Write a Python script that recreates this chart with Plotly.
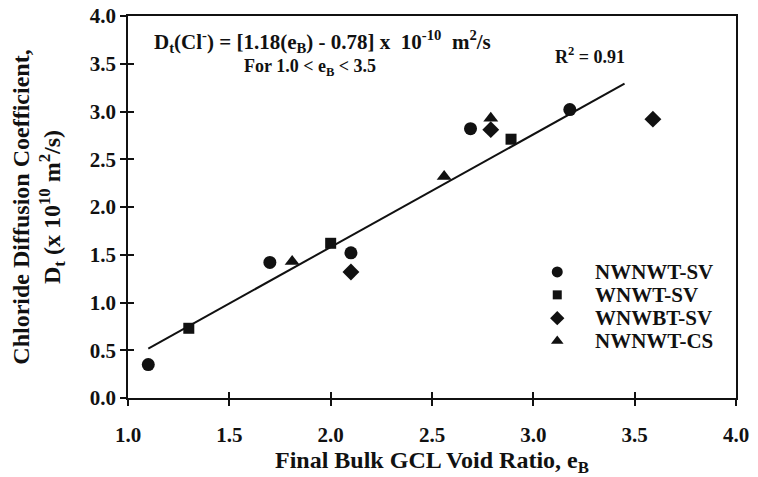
import numpy as np
import plotly.graph_objects as go

# Final bulk GCL void ratio (e_B) and chloride diffusion coefficient D_t (x 1e-10 m^2/s)
nwnwt_sv_x = [1.10, 1.70, 2.10, 2.69, 3.18]
nwnwt_sv_y = [0.35, 1.42, 1.52, 2.82, 3.02]

wnwt_sv_x = [1.30, 2.00, 2.89]
wnwt_sv_y = [0.73, 1.62, 2.71]

wnwbt_sv_x = [2.10, 2.79, 3.59]
wnwbt_sv_y = [1.32, 2.81, 2.92]

nwnwt_cs_x = [1.81, 2.56, 2.79]
nwnwt_cs_y = [1.43, 2.32, 2.93]

series_names = ["NWNWT-SV", "WNWT-SV", "WNWBT-SV", "NWNWT-CS"]

# Regression: D_t = 1.18 e_B - 0.78, drawn over the fitted span
fit_slope = 1.18
fit_intercept = -0.78
fit_range = [1.10, 3.45]

x_ticks = [1.0, 1.5, 2.0, 2.5, 3.0, 3.5, 4.0]
y_ticks = [0.0, 0.5, 1.0, 1.5, 2.0, 2.5, 3.0, 3.5, 4.0]

FONT = "Liberation Serif"
BLACK = "#111111"
NB = "\u00a0"

fig = go.Figure()

fit_x = np.array(fit_range)
fig.add_trace(go.Scatter(
    x=fit_x, y=fit_slope * fit_x + fit_intercept, mode="lines",
    line=dict(color=BLACK, width=2), showlegend=False, hoverinfo="skip"))

symbols = ["circle", "square", "diamond", "triangle-up"]
sizes = [13, 11, 13, 13]
data = [(nwnwt_sv_x, nwnwt_sv_y), (wnwt_sv_x, wnwt_sv_y),
        (wnwbt_sv_x, wnwbt_sv_y), (nwnwt_cs_x, nwnwt_cs_y)]
for name, (xs, ys), sym, sz in zip(series_names, data, symbols, sizes):
    fig.add_trace(go.Scatter(
        x=xs, y=ys, mode="markers", name=name, showlegend=False,
        marker=dict(symbol=sym, size=sz, color=BLACK, opacity=1, line=dict(width=0))))

# Hand-placed key (tighter row spacing than the built-in legend allows)
key_x = 0.706
key_text_x = 0.765
key_rows = [0.330, 0.270, 0.209, 0.149]
fig.add_trace(go.Scatter(
    x=[key_x] * len(series_names), y=key_rows, xaxis="x3", yaxis="y3",
    mode="markers", showlegend=False, hoverinfo="skip",
    marker=dict(symbol=symbols, size=[11, 9, 11, 11], color=BLACK, opacity=1,
                line=dict(width=0))))
for name, ky in zip(series_names, key_rows):
    fig.add_annotation(
        x=key_text_x, y=ky, xref="paper", yref="paper", xanchor="left", yanchor="middle",
        showarrow=False, text=name,
        font=dict(family=FONT, size=21, color=BLACK, weight="bold"))

tick_font = dict(family=FONT, size=21, color=BLACK, weight="bold")

fig.update_layout(
    width=758, height=477,
    margin=dict(l=128, r=22, t=16, b=79),
    paper_bgcolor="white", plot_bgcolor="white",
    font=dict(family=FONT, color=BLACK, weight="bold"),
    showlegend=False,
    xaxis=dict(
        range=[1.0, 4.0], tickvals=x_ticks, ticktext=[f"{v:.1f}" for v in x_ticks],
        ticks="outside", ticklen=6, tickwidth=1.5, tickcolor=BLACK,
        ticklabelstandoff=11, automargin=False,
        showline=True, linecolor=BLACK, linewidth=1.5, mirror=True,
        showgrid=False, zeroline=False, tickfont=tick_font),
    yaxis=dict(
        range=[0.0, 4.0], tickvals=y_ticks, ticktext=[f"{v:.1f}" for v in y_ticks],
        ticks="outside", ticklen=6, tickwidth=1.5, tickcolor=BLACK,
        automargin=False,
        showline=True, linecolor=BLACK, linewidth=1.5, mirror=True,
        showgrid=False, zeroline=False, tickfont=tick_font,
        title=dict(text="Chloride Diffusion Coefficient,<br>D<sub>t</sub> (x 10<sup>10</sup> m<sup>2</sup>/s)",
                   font=dict(family=FONT, size=24, color=BLACK, weight="bold"),
                   standoff=22)),
    # inner halves of the crossing tick marks
    xaxis2=dict(range=[1.0, 4.0], overlaying="x", tickvals=x_ticks, ticks="inside",
                ticklen=6, tickwidth=1.5, tickcolor=BLACK, showticklabels=False,
                showgrid=False, zeroline=False, showline=False, automargin=False),
    yaxis2=dict(range=[0.0, 4.0], overlaying="y", tickvals=y_ticks, ticks="inside",
                ticklen=6, tickwidth=1.5, tickcolor=BLACK, showticklabels=False,
                showgrid=False, zeroline=False, showline=False, automargin=False),
    # unit axes for the key symbols
    xaxis3=dict(range=[0, 1], overlaying="x", visible=False, fixedrange=True),
    yaxis3=dict(range=[0, 1], overlaying="y", visible=False, fixedrange=True),
)

# empty trace so the secondary tick axes are drawn
fig.add_trace(go.Scatter(x=[None], y=[None], xaxis="x2", yaxis="y2",
                         showlegend=False, hoverinfo="skip"))

# x-axis title
fig.add_annotation(
    x=0.5, y=-0.168, xref="paper", yref="paper", xanchor="center", yanchor="middle",
    showarrow=False, font=dict(family=FONT, size=24, color=BLACK, weight="bold"),
    text="Final Bulk GCL Void Ratio, e<sub>B</sub>")

ann_font = dict(family=FONT, size=21, color=BLACK, weight="bold")
fig.add_annotation(
    x=1.12, y=3.73, xref="x", yref="y", xanchor="left", yanchor="middle",
    showarrow=False, font=ann_font,
    text=f"D<sub>t</sub>(Cl<sup>-</sup>) = [1.18(e<sub>B</sub>) - 0.78] x{NB}{NB}10<sup>-10</sup>{NB}{NB}m<sup>2</sup>/s")
fig.add_annotation(
    x=1.90, y=3.46, xref="x", yref="y", xanchor="center", yanchor="middle",
    showarrow=False, font=dict(family=FONT, size=18, color=BLACK, weight="bold"),
    text="For 1.0 < e<sub>B</sub> < 3.5")
fig.add_annotation(
    x=3.28, y=3.59, xref="x", yref="y", xanchor="center", yanchor="middle",
    showarrow=False, font=dict(family=FONT, size=18, color=BLACK, weight="bold"),
    text="R<sup>2</sup> = 0.91")

fig.write_html("out.html")
